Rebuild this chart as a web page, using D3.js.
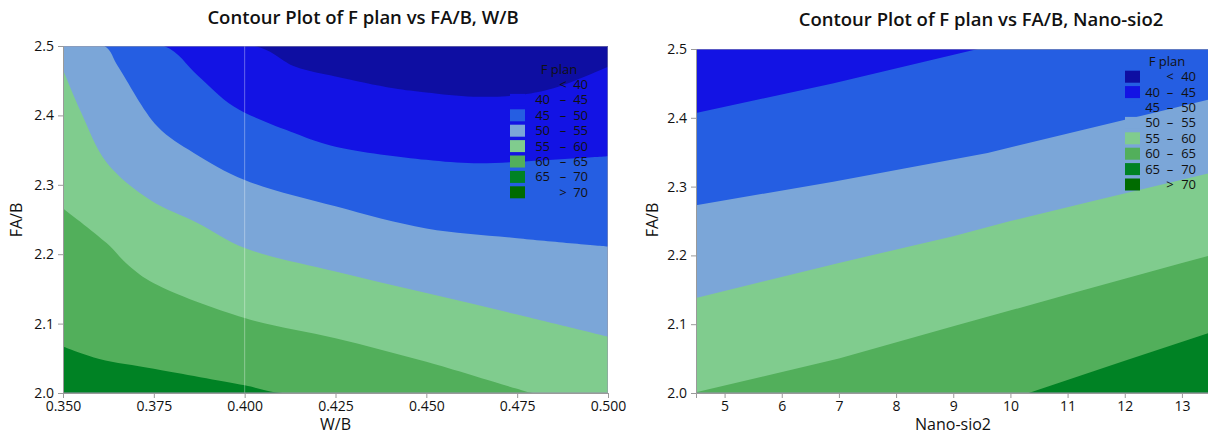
<!DOCTYPE html>
<html>
<head>
<meta charset="utf-8">
<script src="https://cdn.jsdelivr.net/npm/d3@7"></script>
<style>
  body { margin: 0; background: #fff; }
  svg { display: block; font-family: "Open Sans", "Noto Sans", sans-serif; }
</style>
</head>
<body>
<svg id="chart" width="1208" height="436"></svg>
<script>
// band labels and colours (Minitab contour palette)
const bandLabels = ["<", "40 – 45", "45 – 50", "50 – 55", "55 – 60", "60 – 65", "65 – 70", ">"];
const bandColors = ["#0e0ea2", "#1313e4", "#255ee2", "#7ba6d8", "#80cc8e", "#52af5b", "#008224", "#006b00"];
const legendLow = [null, 40, 45, 50, 55, 60, 65, null];
const legendHigh = [40, 45, 50, 55, 60, 65, 70, 70];

// axis ticks
const wbTicks = [0.35, 0.375, 0.4, 0.425, 0.45, 0.475, 0.5];
const fabTicks = [2.0, 2.1, 2.2, 2.3, 2.4, 2.5];
const nanoTicks = [5, 6, 7, 8, 9, 10, 11, 12, 13];

// left panel contour boundaries: [W/B, FA/B]
const wbLevels = [65, 60, 55, 50, 45, 40];
const wb65 = [[0.35, 2.067], [0.36, 2.049], [0.375, 2.035], [0.4, 2.011], [0.4104, 2.0], [0.5, 2.0]];
const wb60 = [[0.35, 2.266], [0.362, 2.216], [0.368, 2.184], [0.375, 2.158], [0.4, 2.108], [0.425, 2.079], [0.45, 2.045], [0.475, 2.006], [0.4793, 2.0], [0.5, 2.0]];
const wb55 = [[0.35, 2.466], [0.355, 2.404], [0.362, 2.332], [0.374, 2.278], [0.387, 2.245], [0.4, 2.209], [0.425, 2.175], [0.45, 2.144], [0.475, 2.113], [0.5, 2.081]];
const wb50 = [[0.35, 2.5], [0.3614, 2.5], [0.3652, 2.47], [0.376, 2.384], [0.386, 2.346], [0.4, 2.307], [0.425, 2.269], [0.45, 2.237], [0.475, 2.223], [0.5, 2.211]];
const wb45 = [[0.35, 2.5], [0.3778, 2.5], [0.387, 2.458], [0.397, 2.413], [0.414, 2.374], [0.425, 2.355], [0.45, 2.336], [0.463, 2.331], [0.475, 2.333], [0.5, 2.341]];
const wb40 = [[0.35, 2.5], [0.4028, 2.5], [0.414, 2.47], [0.425, 2.456], [0.441, 2.439], [0.45, 2.433], [0.463, 2.427], [0.475, 2.429], [0.485, 2.439], [0.5, 2.47]];

// right panel contour boundaries: [Nano-sio2, FA/B]
const nsLevels = [65, 60, 55, 50, 45];
const ns65 = [[4.5, 2.0], [10.32, 2.0], [12, 2.047], [13.5, 2.088]];
const ns60 = [[4.5, 2.001], [7, 2.05], [9, 2.097], [11, 2.143], [13, 2.189], [13.5, 2.2]];
const ns55 = [[4.5, 2.138], [7, 2.189], [9, 2.228], [10, 2.25], [11.5, 2.28], [13.5, 2.32]];
const ns50 = [[4.5, 2.273], [6.9, 2.307], [9.6, 2.349], [13.5, 2.427]];
const ns45 = [[4.5, 2.407], [6.89, 2.45], [9.43, 2.5], [13.5, 2.5]];

const svg = d3.select('#chart');

// index of the band that lies just above / below a contour level
function bandAbove(level) { return level / 5 - 7; }
function bandBelow(level) { return level / 5 - 8; }

function drawPanel(opt) {
    let x = d3.scaleLinear().domain(opt.xDomain).range([opt.left, opt.right]);
    let y = d3.scaleLinear().domain([2.0, 2.5]).range([opt.bottom, opt.top]);

    let g = svg.append('g');
    let clipId = 'clip' + opt.id;
    g.append('clipPath').attr('id', clipId)
        .append('rect')
        .attr('x', opt.left).attr('y', opt.top)
        .attr('width', opt.right - opt.left).attr('height', opt.bottom - opt.top);

    let plot = g.append('g').attr('clip-path', 'url(#' + clipId + ')');

    // highest band fills everything, lower bands are stacked on top
    plot.append('rect')
        .attr('x', opt.left).attr('y', opt.top)
        .attr('width', opt.right - opt.left).attr('height', opt.bottom - opt.top)
        .attr('fill', bandColors[bandAbove(opt.levels[0])]);

    let area = d3.area()
        .x(function(d) { return x(d[0]); })
        .y0(y(2.5) - 20)
        .y1(function(d) { return y(d[1]); })
        .curve(opt.curve);

    plot.selectAll('path.band')
        .data(opt.curves)
        .join('path')
        .attr('class', 'band')
        .attr('d', area)
        .attr('fill', function(d, i) { return bandColors[bandBelow(opt.levels[i])]; });

    if (opt.refLine != null) {
        plot.append('line')
            .attr('x1', x(opt.refLine)).attr('x2', x(opt.refLine))
            .attr('y1', opt.top).attr('y2', opt.bottom)
            .attr('stroke', 'rgba(255,255,255,0.35)').attr('stroke-width', 1);
    }

    // frame
    g.append('rect')
        .attr('x', opt.left + 0.5).attr('y', opt.top + 0.5)
        .attr('width', opt.right - opt.left - 1).attr('height', opt.bottom - opt.top - 1)
        .attr('fill', 'none').attr('stroke', 'rgba(150,150,170,0.55)');

    let xAxis = g.append('g')
        .attr('transform', 'translate(0,' + opt.bottom + ')')
        .call(d3.axisBottom(x).tickValues(opt.xTicks).tickFormat(opt.xFormat).tickSize(5).tickPadding(3));
    let yAxis = g.append('g')
        .attr('transform', 'translate(' + opt.left + ',0)')
        .call(d3.axisLeft(y).tickValues(fabTicks).tickFormat(d3.format('.1f')).tickSize(5).tickPadding(4));

    [xAxis, yAxis].forEach(function(a) {
        a.select('.domain').attr('stroke', '#9a9a9a');
        a.selectAll('.tick line').attr('stroke', '#9a9a9a');
        a.selectAll('.tick text')
            .attr('fill', '#111')
            .style('font-size', '14px')
            .style('font-family', '"Open Sans", sans-serif');
    });

    g.append('text')
        .attr('x', opt.titleX).attr('y', opt.titleY)
        .attr('text-anchor', 'middle')
        .style('font-size', '18.5px').style('font-weight', 600)
        .attr('fill', '#111')
        .text(opt.title);

    g.append('text')
        .attr('x', (opt.left + Math.min(opt.right, 1208)) / 2 + opt.xLabelShift).attr('y', 430)
        .attr('text-anchor', 'middle')
        .style('font-size', '16px')
        .attr('fill', '#111')
        .text(opt.xLabel);

    g.append('text')
        .attr('transform', 'translate(' + opt.yLabelX + ',220) rotate(-90)')
        .attr('text-anchor', 'middle')
        .style('font-size', '16px')
        .attr('fill', '#111')
        .text('FA/B');

    // legend
    let lg = g.append('g');
    lg.append('text')
        .attr('x', opt.leg.x + opt.leg.titleDx).attr('y', opt.leg.y - 11)
        .attr('text-anchor', 'middle')
        .style('font-size', '13px').attr('fill', '#111')
        .text('F plan');

    let rows = lg.selectAll('g.row')
        .data(bandLabels)
        .join('g')
        .attr('class', 'row')
        .attr('transform', function(d, i) { return 'translate(' + opt.leg.x + ',' + (opt.leg.y + i * 15.4) + ')'; });

    rows.append('rect')
        .attr('x', 0).attr('y', -6).attr('width', 15).attr('height', 12)
        .attr('fill', function(d, i) { return bandColors[i]; });

    rows.append('text')
        .attr('x', opt.leg.num1).attr('y', 4.5)
        .attr('text-anchor', 'end')
        .style('font-size', '13px').attr('fill', '#111')
        .text(function(d, i) { return legendLow[i] == null ? '' : legendLow[i]; });
    rows.append('text')
        .attr('x', opt.leg.dash).attr('y', 4.5)
        .attr('text-anchor', 'middle')
        .style('font-size', '13px').attr('fill', '#111')
        .text(function(d, i) { return legendLow[i] == null ? d : '–'; });
    rows.append('text')
        .attr('x', opt.leg.num2).attr('y', 4.5)
        .attr('text-anchor', 'end')
        .style('font-size', '13px').attr('fill', '#111')
        .text(function(d, i) { return legendHigh[i]; });
}

drawPanel({
    id: 'wb', xDomain: [0.35, 0.5], left: 63, right: 608, top: 46, bottom: 393,
    xTicks: wbTicks, xFormat: d3.format('.3f'),
    levels: wbLevels, curves: [wb65, wb60, wb55, wb50, wb45, wb40],
    curve: d3.curveCatmullRom.alpha(0.5),
    refLine: 0.4,
    title: 'Contour Plot of F plan vs FA/B, W/B', titleX: 363, titleY: 24,
    xLabel: 'W/B', xLabelShift: 0, yLabelX: 22,
    leg: { x: 510, y: 84.5, titleDx: 49, num1: 40, dash: 53, num2: 78 }
});

drawPanel({
    id: 'ns', xDomain: [4.5, 13.5], left: 696, right: 1210.5, top: 49, bottom: 393,
    xTicks: nanoTicks, xFormat: d3.format('d'),
    levels: nsLevels, curves: [ns65, ns60, ns55, ns50, ns45],
    curve: d3.curveLinear,
    refLine: null,
    title: 'Contour Plot of F plan vs FA/B, Nano-sio2', titleX: 981, titleY: 26,
    xLabel: 'Nano-sio2', xLabelShift: 1, yLabelX: 658,
    leg: { x: 1125, y: 76.7, titleDx: 42, num1: 35, dash: 45, num2: 71 }
});
</script>
</body>
</html>
